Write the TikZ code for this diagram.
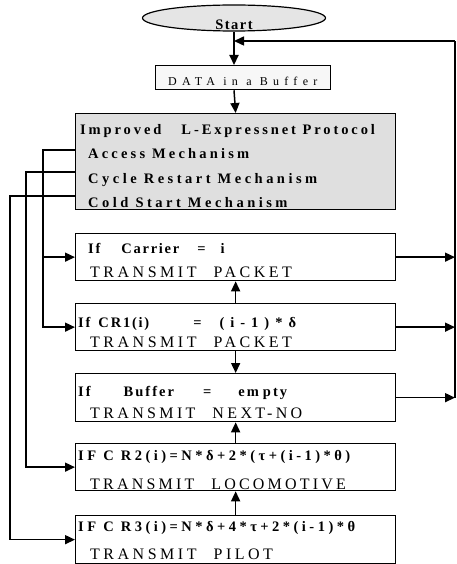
\documentclass[tikz,border=0pt]{standalone}
\usepackage{fontspec}
\setmainfont{Liberation Serif}
\usetikzlibrary{arrows.meta, positioning, shapes.geometric, calc}

\newcommand{\spaced}[2]{{\addfontfeature{LetterSpace=#1}#2}}

\begin{document}
\begin{tikzpicture}[x=1pt, y=-1pt,
  box/.style={rectangle, draw=black, line width=1.3pt, minimum width=320pt, minimum height=47pt, inner sep=0pt, anchor=north west},
  item/.style={font=\bfseries\fontsize{14.5}{16}\selectfont, anchor=base west, inner sep=0pt},
  plain/.style={font=\fontsize{16}{18}\selectfont, anchor=base west, inner sep=0pt},
  link/.style={line width=1.5pt, -{Triangle[length=10pt, width=9pt]}},
  wire/.style={line width=1.5pt}
]
  \useasboundingbox (0,0) rectangle (457,564);

  % start and buffer
  \node[ellipse, draw, fill=gray!20, line width=1.2pt, minimum width=183pt, minimum height=26pt, inner sep=0pt] (start) at (234,18) {};
  \node[item, anchor=base] at ([yshift=-12pt]start.center) {\spaced{10}{Start}};
  \node[box, fill=gray!6, minimum width=175pt, minimum height=24pt] (data) at (155,65) {};
  \node[plain, font=\fontsize{12}{14}\selectfont] at ([xshift=13pt, yshift=-21pt]data.north west) {\spaced{44}{DATA in a Buffer}};

  % protocol box
  \node[box, fill=gray!25, minimum height=96pt] (proto) at (75,113) {};
  \node[item] at ([xshift=5pt, yshift=-22pt]proto.north west) {\spaced{20}{Improved\hspace{20pt}L-Expressnet Protocol}};
  \node[item] at ([xshift=13pt, yshift=-45pt]proto.north west) {\spaced{22}{Access Mechanism}};
  \node[item] at ([xshift=13pt, yshift=-70pt]proto.north west) {\spaced{24}{Cycle Restart Mechanism}};
  \node[item] at ([xshift=13pt, yshift=-94pt]proto.north west) {\spaced{24}{Cold Start Mechanism}};

  % condition boxes
  \node[box] (carrier) at (75,233) {};
  \node[item] at ([xshift=13pt, yshift=-20pt]carrier.north west) {\spaced{12}{If\hspace{21pt}Carrier\hspace{18pt}=\hspace{15pt}i}};
  \node[plain] at ([xshift=15pt, yshift=-44pt]carrier.north west) {\spaced{22}{TRANSMIT\hspace{17pt}PACKET}};

  \node[box] (cr1) at (75,303) {};
  \node[item] at ([xshift=3pt, yshift=-24pt]cr1.north west) {\spaced{12}{If\hspace{8pt}C\hspace{2pt}R1(i)\hspace{44pt}=\hspace{18pt}(\hspace{6pt}i\hspace{6pt}-\hspace{6pt}1\hspace{6pt})\hspace{6pt}*\hspace{6pt}δ}};
  \node[plain] at ([xshift=15pt, yshift=-44pt]cr1.north west) {\spaced{22}{TRANSMIT\hspace{17pt}PACKET}};

  \node[box, minimum height=48pt] (buffer) at (75,373) {};
  \node[item] at ([xshift=3pt, yshift=-23pt]buffer.north west) {\spaced{14}{If\hspace{33pt}Buffer\hspace{29pt}=\hspace{27pt}em\hspace{4pt}pty}};
  \node[plain] at ([xshift=15pt, yshift=-45pt]buffer.north west) {\spaced{21}{TRANSMIT\hspace{17pt}NEXT-NO}};

  \node[box] (cr2) at (75,443) {};
  \node[item] at ([xshift=3pt, yshift=-17pt]cr2.north west) {\spaced{24}{IF C R2(i)=N*δ+2*(τ+(i-1)*θ)}};
  \node[plain] at ([xshift=15pt, yshift=-46pt]cr2.north west) {\spaced{20}{TRANSMIT\hspace{17pt}LOCOMOTIVE}};

  \node[box, minimum height=48pt] (cr3) at (75,515) {};
  \node[item] at ([xshift=3pt, yshift=-16pt]cr3.north west) {\spaced{24}{IF C R3(i)=N*δ+4*τ+2*(i-1)*θ}};
  \node[plain] at ([xshift=15pt, yshift=-44pt]cr3.north west) {\spaced{22}{TRANSMIT\hspace{17pt}PILOT}};

  % main flow
  \draw[link, line width=2.2pt] (start.south) -- (start.south |- data.north);
  \draw[link] (start.south |- data.south) -- (proto.north);
  \draw[link] (cr1.north) -- (carrier.south);
  \draw[link] (cr1.south) -- (buffer.north);
  \draw[link] (cr2.north) -- (buffer.south);
  \draw[link] (cr3.north) -- (cr2.south);

  % feedback rail
  \coordinate (rail) at (455,41);
  \draw[link] (carrier.east) -- (carrier.east -| rail);
  \draw[link] (cr1.east) -- (cr1.east -| rail);
  \draw[link] (buffer.east) -- (buffer.east -| rail);
  \draw[wire] (buffer.east -| rail) -- (rail);
  \draw[link] (rail) -- (start.south |- rail);

  % mechanism wires
  \coordinate (acc) at ([yshift=-37pt]proto.north west);
  \coordinate (cyc) at ([yshift=-59pt]proto.north west);
  \coordinate (cold) at ([yshift=-83pt]proto.north west);
  \coordinate (accbus) at ([xshift=-32pt]acc);
  \draw[link] (acc) -- (accbus) |- (carrier.west);
  \draw[link] (accbus) |- (cr1.west);
  \draw[link] (cyc) -- ++(-49,0) |- (cr2.west);
  \draw[link] (cold) -- ++(-65,0) |- (cr3.west);
\end{tikzpicture}
\end{document}
